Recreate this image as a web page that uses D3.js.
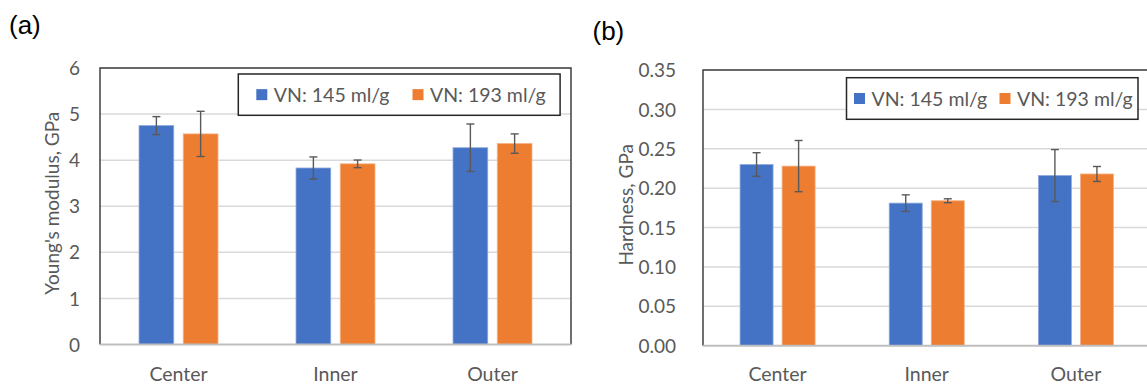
<!DOCTYPE html>
<html>
<head>
<meta charset="utf-8">
<script src="https://cdn.jsdelivr.net/npm/d3@7"></script>
<style>
  body { margin: 0; background: #fff; }
  svg { display: block; }
  .tick text, .catLabel, .legendText, .axisTitle { fill: #595959; font-family: Lato, "Open Sans", sans-serif; }
  .panelLabel { font-family: "Liberation Sans", Arial, sans-serif; fill: #000; }
</style>
</head>
<body>
<script>
//chart values
var categories = ["Center", "Inner", "Outer"];
var seriesNames = ["VN: 145 ml/g", "VN: 193 ml/g"];
var seriesColors = ["#4472C4", "#ED7D31"];

var modulus145 = [4.75, 3.83, 4.27];
var modulus145Err = [0.195, 0.24, 0.515];
var modulus193 = [4.57, 3.92, 4.36];
var modulus193Err = [0.49, 0.083, 0.21];
var modulusTicks = [0, 1, 2, 3, 4, 5, 6];

var hardness145 = [0.230, 0.181, 0.216];
var hardness145Err = [0.015, 0.0105, 0.033];
var hardness193 = [0.228, 0.184, 0.218];
var hardness193Err = [0.0325, 0.0025, 0.0095];
var hardnessTicks = [0, 0.05, 0.10, 0.15, 0.20, 0.25, 0.30, 0.35];

var svg = d3.select("body").append("svg")
  .attr("width", 1147)
  .attr("height", 385);

//panel (a)
drawPanel({
  label: "(a)", labelX: 9, labelY: 33.5,
  left: 100, right: 571, top: 68, zero: 344.5,
  max: 6, ticks: modulusTicks, fmt: d3.format("d"), tickGap: 20,
  title: "Young's modulus, GPa", titleX: 51.5,
  values: [modulus145, modulus193], errors: [modulus145Err, modulus193Err],
  legend: { x: 238.3, y: 74, w: 321.8, h: 41.3, items: [18, 174.2] }
});

//panel (b), plot runs past the right edge of the picture
drawPanel({
  label: "(b)", labelX: 592.5, labelY: 40,
  left: 703, right: 1150.5, top: 70, zero: 345.7,
  max: 0.35, ticks: hardnessTicks, fmt: d3.format(".2f"), tickGap: 27,
  title: "Hardness, GPa", titleX: 625.5,
  values: [hardness145, hardness193], errors: [hardness145Err, hardness193Err],
  legend: { x: 846.5, y: 77.7, w: 291.5, h: 41.6, items: [7.5, 153] }
});

function drawPanel(p){
  var g = svg.append("g");

  var y = d3.scaleLinear()
    .domain([0, p.max])
    .range([p.zero, p.top]);

  var x0 = d3.scaleBand()
    .domain(categories)
    .range([p.left, p.right])
    .paddingInner(0.497)
    .paddingOuter(0.2485);

  var x1 = d3.scaleBand()
    .domain(seriesNames)
    .range([0, x0.bandwidth()])
    .paddingInner(0.215);

  //gridlines
  g.selectAll(".grid")
    .data(p.ticks.slice(1))
    .enter()
    .append("line")
    .attr("x1", p.left)
    .attr("x2", p.right)
    .attr("y1", function(d){ return y(d); })
    .attr("y2", function(d){ return y(d); })
    .attr("stroke", "#d9d9d9")
    .attr("stroke-width", 1.5);

  //bars
  var rows = [];
  categories.forEach(function(c, i){
    seriesNames.forEach(function(s, j){
      rows.push({ cat: c, series: s, j: j, v: p.values[j][i], e: p.errors[j][i] });
    });
  });

  g.selectAll(".bar")
    .data(rows)
    .enter()
    .append("rect")
    .attr("x", function(d){ return x0(d.cat) + x1(d.series); })
    .attr("width", x1.bandwidth())
    .attr("y", function(d){ return y(d.v); })
    .attr("height", function(d){ return y(0) - y(d.v); })
    .attr("fill", function(d){ return seriesColors[d.j]; })
    .attr("stroke", function(d){ return d.j == 0 ? "#8ea9dc" : "#f4b183"; })
    .attr("stroke-width", 0.8);

  //error bars
  var err = g.selectAll(".err")
    .data(rows)
    .enter()
    .append("g")
    .attr("stroke", "#595959")
    .attr("stroke-width", 1.4);
  err.append("line")
    .attr("x1", function(d){ return x0(d.cat) + x1(d.series) + x1.bandwidth() / 2; })
    .attr("x2", function(d){ return x0(d.cat) + x1(d.series) + x1.bandwidth() / 2; })
    .attr("y1", function(d){ return y(d.v + d.e); })
    .attr("y2", function(d){ return y(d.v - d.e); });
  [1, -1].forEach(function(sign){
    err.append("line")
      .attr("x1", function(d){ return x0(d.cat) + x1(d.series) + x1.bandwidth() / 2 - 4; })
      .attr("x2", function(d){ return x0(d.cat) + x1(d.series) + x1.bandwidth() / 2 + 4; })
      .attr("y1", function(d){ return y(d.v + sign * d.e); })
      .attr("y2", function(d){ return y(d.v + sign * d.e); });
  });

  //frame: left and top dark, bottom axis gray
  g.append("path")
    .attr("d", "M" + p.left + "," + p.zero + "V" + p.top + "H" + p.right + (p.right < 1147 ? "V" + p.zero : ""))
    .attr("fill", "none")
    .attr("stroke", "#404040")
    .attr("stroke-width", 1.5);
  g.append("line")
    .attr("x1", p.left)
    .attr("x2", p.right)
    .attr("y1", p.zero)
    .attr("y2", p.zero)
    .attr("stroke", "#bfbfbf")
    .attr("stroke-width", 2);

  //y axis labels
  var yAxis = d3.axisLeft(y)
    .tickValues(p.ticks)
    .tickFormat(p.fmt)
    .tickSize(0)
    .tickPadding(p.tickGap);
  var ax = g.append("g")
    .attr("transform", "translate(" + p.left + ",0)")
    .call(yAxis);
  ax.select(".domain").remove();
  ax.selectAll("text")
    .style("font-size", "19px")
    .attr("dy", "0.35em");

  //category labels
  g.selectAll(".catLabel")
    .data(categories)
    .enter()
    .append("text")
    .attr("class", "catLabel")
    .attr("x", function(d){ return x0(d) + x0.bandwidth() / 2; })
    .attr("y", 381)
    .attr("text-anchor", "middle")
    .style("font-size", "19.5px")
    .text(function(d){ return d; });

  //axis title
  g.append("text")
    .attr("class", "axisTitle")
    .attr("transform", "translate(" + p.titleX + "," + ((p.top + p.zero) / 2 - 3) + ") rotate(-90)")
    .attr("text-anchor", "middle")
    .attr("dominant-baseline", "central")
    .style("font-size", "19px")
    .text(p.title);

  //legend
  var lg = g.append("g").attr("transform", "translate(" + p.legend.x + "," + p.legend.y + ")");
  lg.append("rect")
    .attr("width", p.legend.w)
    .attr("height", p.legend.h)
    .attr("fill", "#fff")
    .attr("stroke", "#262626")
    .attr("stroke-width", 1.5);
  seriesNames.forEach(function(s, j){
    var sx = p.legend.items[j];
    lg.append("rect")
      .attr("x", sx)
      .attr("y", p.legend.h / 2 - 5.5)
      .attr("width", 11)
      .attr("height", 11)
      .attr("fill", seriesColors[j]);
    lg.append("text")
      .attr("class", "legendText")
      .attr("x", sx + 17.5)
      .attr("y", p.legend.h / 2)
      .attr("dominant-baseline", "central")
      .style("font-size", "19.5px")
      .text(s);
  });

  //panel letter
  svg.append("text")
    .attr("class", "panelLabel")
    .attr("x", p.labelX)
    .attr("y", p.labelY)
    .style("font-size", "26px")
    .text(p.label);
}
</script>
</body>
</html>
